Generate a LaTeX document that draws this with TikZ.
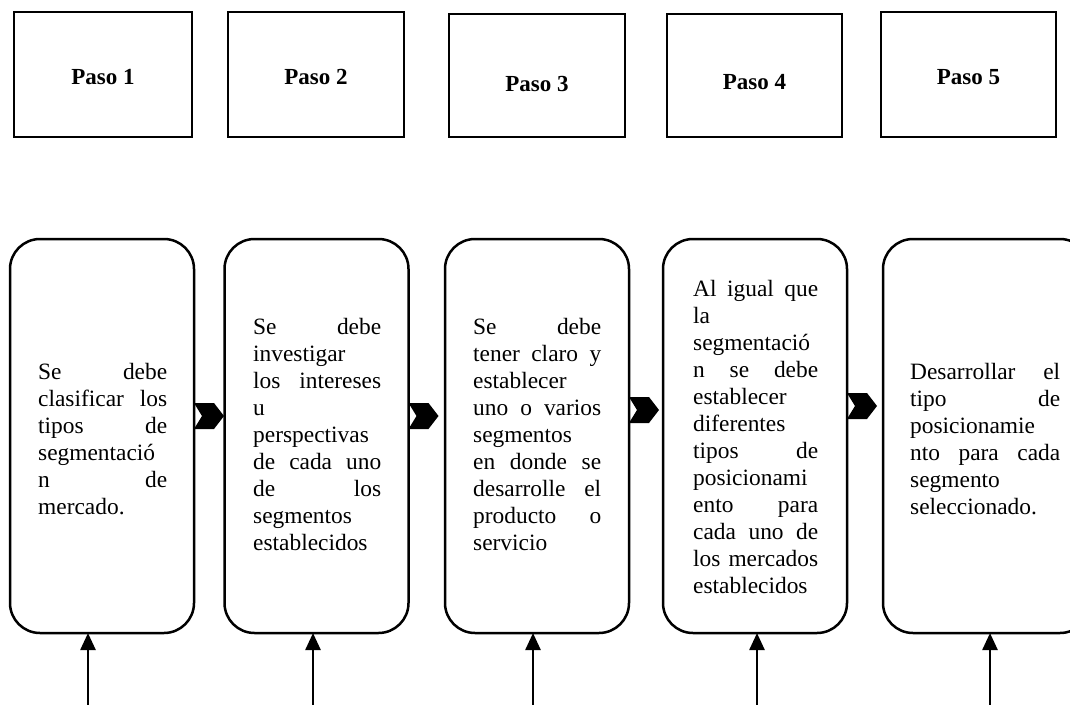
\documentclass[tikz,border=0pt]{standalone}
\usepackage{fontspec}
\setmainfont{Liberation Serif}
\usetikzlibrary{arrows.meta}
\newcommand\jw{128pt}
\newcommand\jl[1]{\leavevmode\hbox to \jw{#1}}
\begin{document}
\begin{tikzpicture}[x=1pt,y=-1pt,
  pasobox/.style={draw, line width=2.5pt, inner sep=0pt, outer sep=0pt},
  pasolabel/.style={font=\fontsize{23}{27}\selectfont\bfseries, inner sep=0pt},
  stepcard/.style={draw, line width=2.5pt, rounded corners=30pt, inner sep=0pt, outer sep=0pt, minimum width=184pt, minimum height=394pt},
  cardtext/.style={font=\fontsize{23.4}{27}\selectfont, align=left, inner sep=0pt, anchor=base west},
  uparrow/.style={line width=2.5pt, -{Triangle[width=15pt,length=17pt]}},
  chev/.pic={\fill[black] (0,-13) -- (20,-13) -- (30,0) -- (20,13) -- (0,13) -- (8,0) -- cycle;}
]
\useasboundingbox (0,0) rectangle (1070,704);
\fill[white] (0,0) rectangle (1070,704);
\clip (0,0) rectangle (1070,704);

% top boxes
\node[pasobox, minimum width=178pt, minimum height=125pt] (p1) at (103,74.5) {};
\node[pasobox, minimum width=176pt, minimum height=125pt] (p2) at (316,74.5) {};
\node[pasobox, minimum width=176pt, minimum height=123pt] (p3) at (537,75.5) {};
\node[pasobox, minimum width=175pt, minimum height=123pt] (p4) at (754.5,75.5) {};
\node[pasobox, minimum width=175pt, minimum height=125pt] (p5) at (968.5,74.5) {};
\node[pasolabel] (l1) at (103,77) {Paso 1};
\node[pasolabel] (l2) at (316,77) {Paso 2};
\node[pasolabel] (l3) at (537,84) {Paso 3};
\node[pasolabel] (l4) at (754.5,82) {Paso 4};
\node[pasolabel] (l5) at (968.5,77) {Paso 5};

% cards
\node[stepcard] (b1) at (102,436) {};
\node[stepcard] (b2) at (316.5,436) {};
\node[stepcard] (b3) at (537,436) {};
\node[stepcard] (b4) at (755,436) {};
\node[stepcard, minimum width=207pt] (b5) at (986.5,436) {};

\node[cardtext, text width=129pt] (t1) at (38,379) {\renewcommand\jw{129pt}%
\jl{Se\hfill debe}\\\jl{clasificar\hfill los}\\\jl{tipos\hfill de}\\segmentació\\\jl{n\hfill de}\\mercado.};
\node[cardtext, text width=128pt] (t2) at (253,334) {\renewcommand\jw{128pt}%
\jl{Se\hfill debe}\\investigar\\\jl{los\hfill intereses}\\u\\perspectivas\\\jl{de\hfill cada\hfill uno}\\\jl{de\hfill los}\\segmentos\\establecidos};
\node[cardtext, text width=128pt] (t3) at (473,334) {\renewcommand\jw{128pt}%
\jl{Se\hfill debe}\\\jl{tener\hfill claro\hfill y}\\establecer\\\jl{uno\hfill o\hfill varios}\\segmentos\\\jl{en\hfill donde\hfill se}\\\jl{desarrolle\hfill el}\\\jl{producto\hfill o}\\servicio};
\node[cardtext, text width=125pt] (t4) at (693,296) {\renewcommand\jw{125pt}%
\jl{Al\hfill igual\hfill que}\\la\\segmentació\\\jl{n\hfill se\hfill debe}\\establecer\\diferentes\\\jl{tipos\hfill de}\\posicionami\\\jl{ento\hfill para}\\\jl{cada\hfill uno\hfill de}\\\jl{los\hfill mercados}\\establecidos};
\node[cardtext, text width=150pt] (t5) at (910,379) {\renewcommand\jw{150pt}%
\jl{Desarrollar\hfill el}\\\jl{tipo\hfill de}\\posicionamie\\\jl{nto\hfill para\hfill cada}\\segmento\\seleccionado.};

% chevrons
\path (b1.east) ++(0,-20) pic {chev};
\path (b2.east) ++(0,-20) pic {chev};
\path (b3.east) ++(0,-26) pic {chev};
\path (b4.east) ++(0,-30) pic {chev};

% arrows
\coordinate (s1) at (88,708);
\coordinate (s2) at (313,708);
\coordinate (s3) at (533,708);
\coordinate (s4) at (757,708);
\coordinate (s5) at (990,708);
\draw[uparrow] (s1) -- (s1 |- b1.south);
\draw[uparrow] (s2) -- (s2 |- b2.south);
\draw[uparrow] (s3) -- (s3 |- b3.south);
\draw[uparrow] (s4) -- (s4 |- b4.south);
\draw[uparrow] (s5) -- (s5 |- b5.south);
\end{tikzpicture}
\end{document}
